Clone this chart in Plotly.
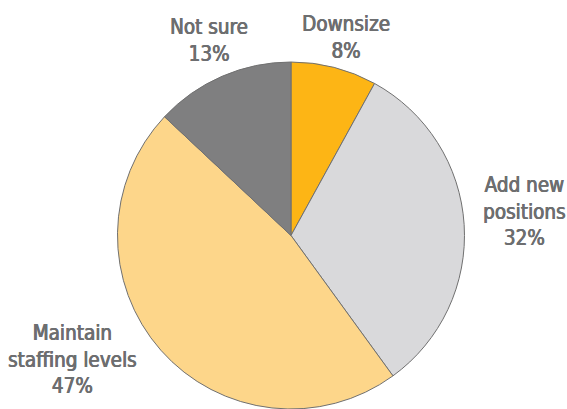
import plotly.graph_objects as go

labels = ["Downsize", "Add new<br>positions", "Maintain<br>staffing levels", "Not sure"]
values = [8, 32, 47, 13]
colors = ["#FDB515", "#D9D9DB", "#FDD68A", "#7F7F80"]

# label centre positions in pixels (style only)
label_px = [(346, 38), (524, 212), (72, 359), (209, 40)]

W, H = 567, 409

fig = go.Figure(go.Pie(
    labels=labels,
    values=values,
    sort=False,
    direction="clockwise",
    rotation=0,
    marker=dict(colors=colors, line=dict(color="#707070", width=1)),
    textinfo="none",
    hoverinfo="label+percent",
    showlegend=False,
    domain=dict(x=[0.2, 0.8264], y=[0, 1 - 62 / H]),
))

total = sum(values)
for lab, val, (px, py) in zip(labels, values, label_px):
    fig.add_annotation(
        x=px / W, y=1 - py / H, xref="paper", yref="paper",
        text=f"{lab}<br>{round(100 * val / total)}%",
        showarrow=False, xanchor="center", yanchor="middle", align="center",
        font=dict(family="DejaVu Sans Condensed", size=20.5, color="#6D6E70",
                  shadow="0.5px 0 0 #6D6E70, -0.3px 0 0 #6D6E70"),
    )

fig.update_layout(
    width=W, height=H,
    margin=dict(l=0, r=0, t=0, b=0, autoexpand=False),
    paper_bgcolor="white",
)

fig.write_html("out.html")
